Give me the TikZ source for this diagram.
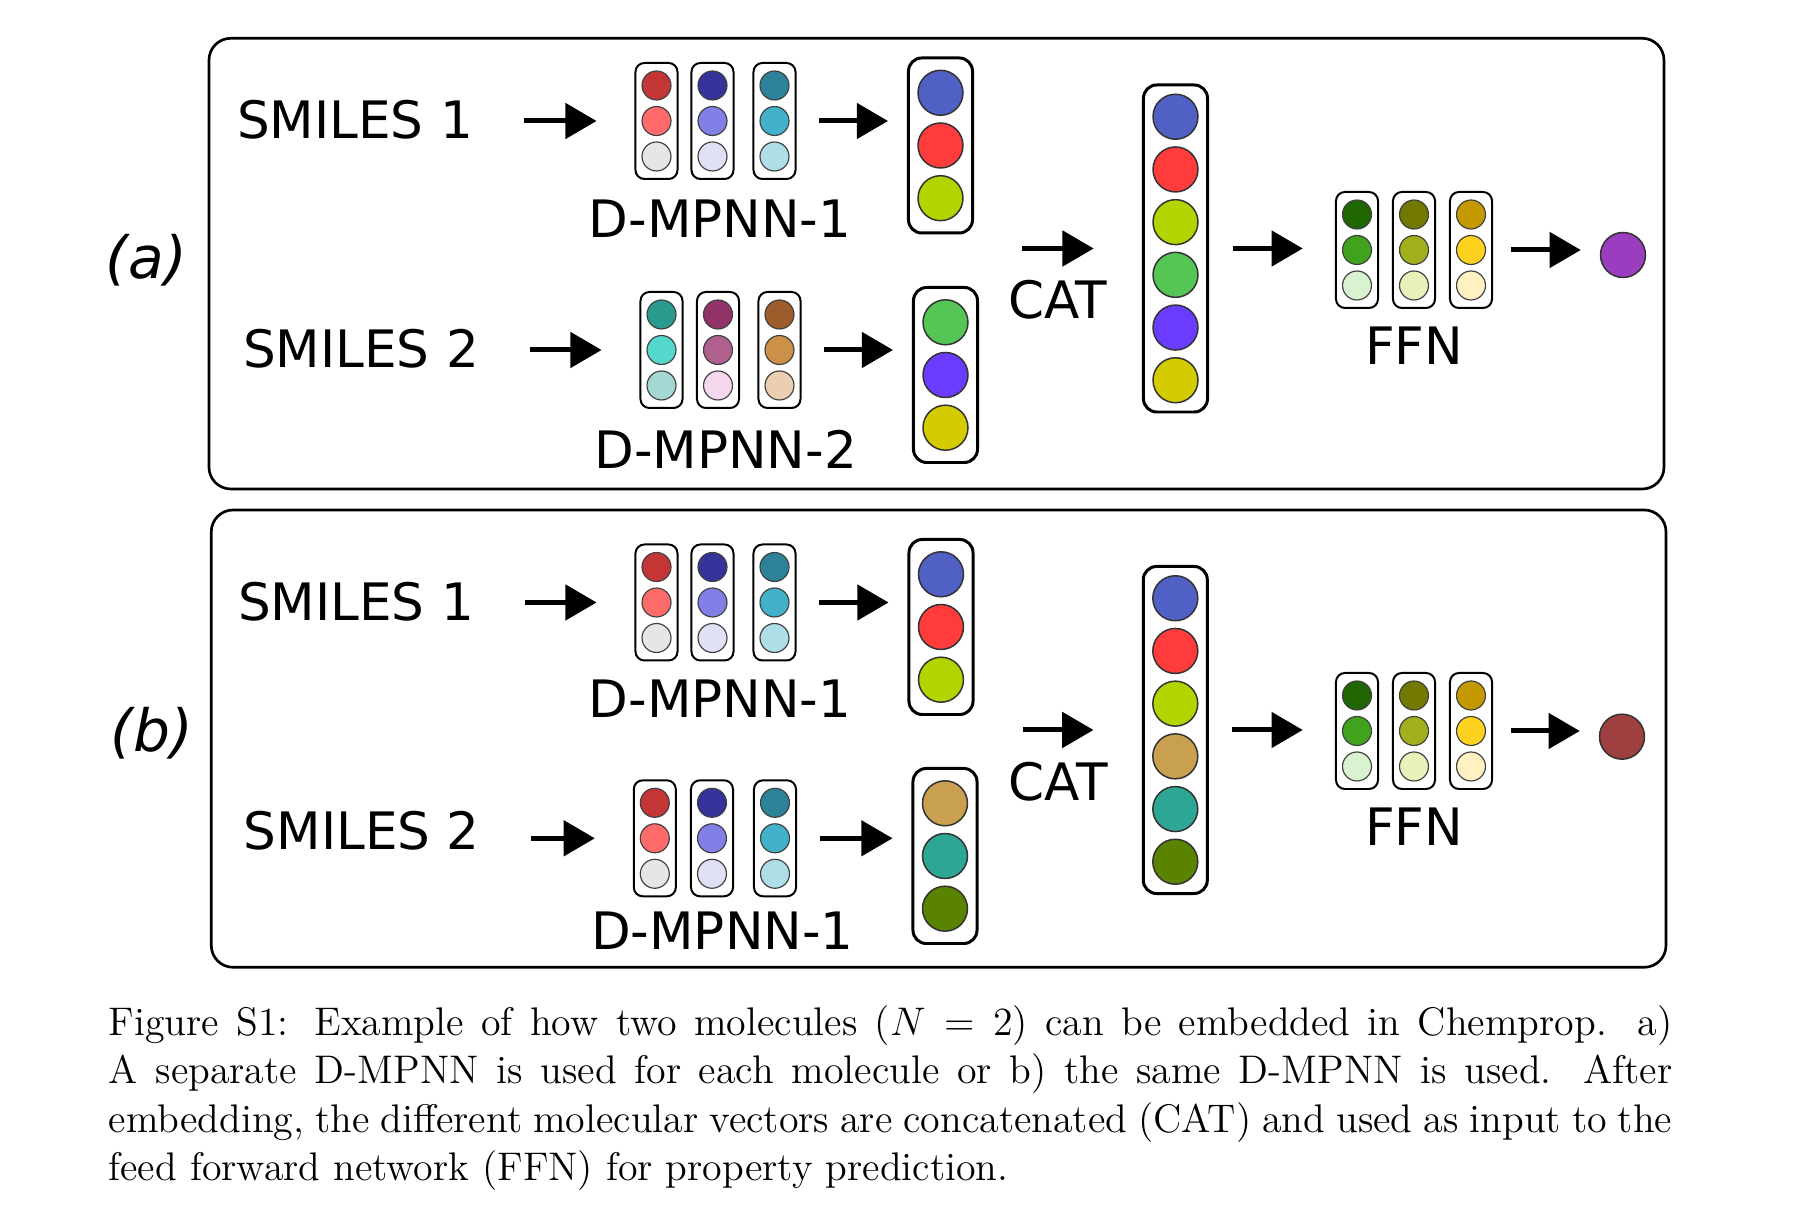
\documentclass[tikz,border=0pt]{standalone}
\usepackage{fontspec}
\newfontfamily\dejavu{DejaVu Sans}
\usetikzlibrary{arrows.meta}
\usetikzlibrary{positioning}

% layer colours
\definecolor{rA}{HTML}{C43535}
\definecolor{rB}{HTML}{FF6B6B}
\definecolor{rC}{HTML}{E6E6E6}
\definecolor{bA}{HTML}{333399}
\definecolor{bB}{HTML}{8080E6}
\definecolor{bC}{HTML}{E1E1F5}
\definecolor{tA}{HTML}{2C8299}
\definecolor{tB}{HTML}{44B1CB}
\definecolor{tC}{HTML}{B0DEE8}
\definecolor{gA}{HTML}{2A9A8E}
\definecolor{gB}{HTML}{53D8CB}
\definecolor{gC}{HTML}{A3D8D3}
\definecolor{mA}{HTML}{913366}
\definecolor{mB}{HTML}{B0608C}
\definecolor{mC}{HTML}{F5D8EE}
\definecolor{oA}{HTML}{9C5C2C}
\definecolor{oB}{HTML}{CC9046}
\definecolor{oC}{HTML}{EBCFB1}
\definecolor{fGa}{HTML}{1F6600}
\definecolor{fGb}{HTML}{41A21E}
\definecolor{fGc}{HTML}{D9F3D1}
\definecolor{fOa}{HTML}{737800}
\definecolor{fOb}{HTML}{A1B01C}
\definecolor{fOc}{HTML}{E9F0B9}
\definecolor{fYa}{HTML}{C49A00}
\definecolor{fYb}{HTML}{FFD21F}
\definecolor{fYc}{HTML}{FFF1C2}
% embedding colours
\definecolor{eBlue}{HTML}{5060C4}
\definecolor{eRed}{HTML}{FF3B3B}
\definecolor{eLime}{HTML}{B3D400}
\definecolor{eGreen}{HTML}{55C655}
\definecolor{ePurple}{HTML}{6B3CFF}
\definecolor{eYellow}{HTML}{D4CC00}
\definecolor{eTan}{HTML}{C8A050}
\definecolor{eTeal}{HTML}{2EA694}
\definecolor{eOlive}{HTML}{5A8400}
\definecolor{outA}{HTML}{9B3DBF}
\definecolor{outB}{HTML}{9E4040}

\tikzset{
    panel/.style={
           draw=black,
           line width=0.8pt,
           rounded corners=2.3mm,
           },
    lbl/.style={
           font=\dejavu\fontsize{15.5}{18}\selectfont,
           inner sep=0pt,
           },
    tag/.style={
           font=\dejavu\itshape\fontsize{17.5}{21}\selectfont,
           inner sep=0pt,
           },
    cell/.style={
           rectangle,
           draw=black,
           line width=0.6pt,
           rounded corners=0.95mm,
           minimum width=0.444cm,
           minimum height=1.225cm,
           inner sep=0pt,
           },
    embcol/.style={
           rectangle,
           draw=black,
           line width=0.9pt,
           rounded corners=1.4mm,
           minimum width=0.676cm,
           minimum height=1.848cm,
           inner sep=0pt,
           },
    catcol/.style={
           embcol,
           minimum height=3.453cm,
           },
    dotS/.style={
           circle,
           draw=black!75,
           line width=0.35pt,
           minimum size=0.306cm,
           inner sep=0pt,
           },
    dotL/.style={
           circle,
           draw=black!80,
           line width=0.45pt,
           minimum size=0.475cm,
           inner sep=0pt,
           },
    arr/.style={
           -{Triangle[length=3.3mm,width=3.7mm]},
           line width=1.5pt,
           },
}

\begin{document}
\begin{tikzpicture}[x=0.01056cm,y=-0.01056cm]
 \useasboundingbox (0,0) rectangle (1812,1222);

 % the two panels
 \draw[panel] (209,38.3) rectangle (1664,489);
 \draw[panel] (211.3,510) rectangle (1666,967.3);
 \node[tag] (tagA) at (146.5,260) {(a)};
 \node[tag] (tagB) at (151.7,733.3) {(b)};

 % message passing layers and FFN layers
 \foreach \nm/\cx/\cy/\ca/\cb/\cc in {
   cA11/656.5/121/rA/rB/rC, cA12/712.5/121/bA/bB/bC, cA13/774.5/121/tA/tB/tC,
   cA21/661.5/350/gA/gB/gC, cA22/718/350/mA/mB/mC, cA23/779.5/350/oA/oB/oC,
   fA1/1357/250/fGa/fGb/fGc, fA2/1414/250/fOa/fOb/fOc, fA3/1471/250/fYa/fYb/fYc,
   cB11/656.5/602.5/rA/rB/rC, cB12/712.5/602.5/bA/bB/bC, cB13/774.5/602.5/tA/tB/tC,
   cB21/654.8/838.3/rA/rB/rC, cB22/712/838.3/bA/bB/bC, cB23/775/838.3/tA/tB/tC,
   fB1/1357/731/fGa/fGb/fGc, fB2/1414/731/fOa/fOb/fOc, fB3/1471/731/fYa/fYb/fYc}
 {
   \node[cell] (\nm) at (\cx,\cy) {};
   \foreach \cl [count=\i] in {\ca,\cb,\cc}
     \node[dotS, fill=\cl] (\nm-\i) at (\cx,{\cy+(\i-2)*35.5}) {};
 }

 % molecule embeddings
 \foreach \nm/\cx/\cy/\ca/\cb/\cc in {
   eA1/940.5/145.5/eBlue/eRed/eLime, eA2/945.5/375/eGreen/ePurple/eYellow,
   eB1/941/627/eBlue/eRed/eLime, eB2/945/856/eTan/eTeal/eOlive}
 {
   \node[embcol] (\nm) at (\cx,\cy) {};
   \foreach \cl [count=\i] in {\ca,\cb,\cc}
     \node[dotL, fill=\cl] (\nm-\i) at (\cx,{\cy+(\i-2)*52.7}) {};
 }

 % concatenated vectors
 \node[catcol] (kA) at (1175.5,248.5) {};
 \foreach \cl [count=\i] in {eBlue,eRed,eLime,eGreen,ePurple,eYellow}
   \node[dotL, fill=\cl] (kA-\i) at (1175.5,{248.5+(\i-3.5)*52.7}) {};
 \node[catcol] (kB) at (1175.3,730) {};
 \foreach \cl [count=\i] in {eBlue,eRed,eLime,eTan,eTeal,eOlive}
   \node[dotL, fill=\cl] (kB-\i) at (1175.3,{730+(\i-3.5)*52.7}) {};

 % predictions
 \node[dotL, fill=outA] (oA) at (1623,255) {};
 \node[dotL, fill=outB] (oB) at (1622,736.7) {};

 % labels
 \node[lbl] (sA1) at (355,120) {SMILES 1};
 \node[lbl] (sA2) at (361,349) {SMILES 2};
 \node[lbl] (sB1) at (356,601.7) {SMILES 1};
 \node[lbl] (sB2) at (361.8,830.5) {SMILES 2};
 \node[lbl, below=0.2cm of cA12, xshift=0.08cm] (dA1) {D-MPNN-1};
 \node[lbl, below=0.22cm of cA22, xshift=0.08cm] (dA2) {D-MPNN-2};
 \node[lbl, below=0.19cm of cB12, xshift=0.08cm] (dB1) {D-MPNN-1};
 \node[lbl, below=0.15cm of cB22, xshift=0.11cm] (dB2) {D-MPNN-1};
 \node[lbl, below=0.18cm of fA2] (nA) {FFN};
 \node[lbl, below=0.18cm of fB2] (nB) {FFN};

 % connectors
 \foreach \s/\c/\e/\k/\f/\o in {sA1/cA11/cA13/eA1/fA1/fA3, sA2/cA21/cA23/eA2/fA1/fA3,
   sB1/cB11/cB13/eB1/fB1/fB3, sB2/cB21/cB23/eB2/fB1/fB3}
 {
   \draw[arr, shorten <=0.53cm, shorten >=0.40cm] (\c.west -| \s.east) -- (\c.west);
   \draw[arr, shorten <=0.24cm, shorten >=0.2cm] (\e.east) -- (\e.east -| \k.west);
 }
 \draw[arr, shorten <=0.51cm, shorten >=0.51cm] (kA.west -| eA1.east)
   -- node[lbl, below=0.31cm] (catA) {CAT} (kA.west);
 \draw[arr, shorten <=0.51cm, shorten >=0.51cm] (kB.west -| eB1.east)
   -- node[lbl, below=0.31cm] (catB) {CAT} (kB.west);
 \draw[arr, shorten <=0.25cm, shorten >=0.34cm] (kA.east) -- (kA.east -| fA1.west);
 \draw[arr, shorten <=0.25cm, shorten >=0.34cm] (kB.east) -- (kB.east -| fB1.west);
 \draw[arr, shorten <=0.19cm, shorten >=0.2cm] (fA3.east) -- (fA3.east -| oA.west);
 \draw[arr, shorten <=0.19cm, shorten >=0.2cm] (fB3.east) -- (fB3.east -| oB.west);

 % caption
 \node[anchor=north west, inner sep=0pt, text width=16.51cm, align=justify,
   font=\fontsize{12}{14.5}\selectfont] (caption) at (108,1005)
   {\noindent Figure S1: Example of how two molecules ($N = 2$) can be embedded in
   Chemprop. a) A separate D-MPNN is used for each molecule or b) the same D-MPNN
   is used. After embedding, the different molecular vectors are concatenated (CAT)
   and used as input to the feed forward network (FFN) for property prediction.};
\end{tikzpicture}
\end{document}
